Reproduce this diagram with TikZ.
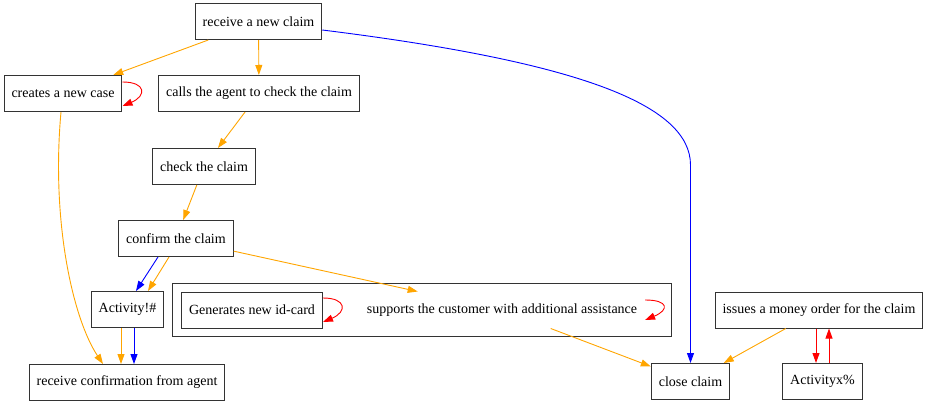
\documentclass[tikz,border=0pt]{standalone}
\usepackage{fontspec}
\setmainfont{Liberation Serif}
\usepackage{tikz}
\usetikzlibrary{arrows.meta,calc,positioning,fit}
\definecolor{edgeorange}{HTML}{FFA500}
\definecolor{edgeblue}{HTML}{0000FF}
\definecolor{edgered}{HTML}{FF0000}

\begin{document}
\begin{tikzpicture}[x=1pt,y=-1pt,
		box/.style={draw=black!80, line width=1pt, minimum height=36pt, inner xsep=7.5pt, font=\fontsize{14}{16}\selectfont},
		plain/.style={box, draw=none},
		flow/.style={line width=0.9pt, -{Triangle[length=10pt,width=7pt]}}]
		\useasboundingbox (0,0) rectangle (931,404);
		\node[box, minimum width=499pt, minimum height=53pt] (clus) at (421.5,309.5) {};
		\node[box] (rnew) at (258.5,21.5) {receive a new claim};
		\node[box] (cnew) at (63,93.5) {creates a new case};
		\node[box] (call) at (259,93.5) {calls the agent to check the claim};
		\node[box] (chk) at (204,166.5) {check the claim};
		\node[box] (conf) at (176,238.5) {confirm the claim};
		\node[box] (act1) at (127.5,309.5) {Activity!\#};
		\node[box] (rconf) at (127,382.5) {receive confirmation from agent};
		\node[box] (gen) at (252,310) {Generates new id-card};
		\node[plain] (sup) at (502,310) {supports the customer with additional assistance};
		\node[box] (iss) at (819,310) {issues a money order for the claim};
		\node[box] (close) at (690.5,381.5) {close claim};
		\node[box] (actx) at (822.5,381.5) {Activityx\%};
		\draw[flow,edgeorange] (rnew) -- (cnew);
		\draw[flow,edgeorange] (rnew) -- (call);
		\draw[flow,edgeblue] ($(rnew.east)+(0,8.5)$) .. controls (580,62) and (690.5,105) .. (690.5,165) -- (close);
		\draw[flow,edgered] ($(cnew.east)+(0,-11.5)$) .. controls +(24,0) and +(24,-10) .. ($(cnew.east)+(0,12.5)$);
		\draw[flow,edgeorange] ($(cnew.south)+(-2,0)$) .. controls +(-10,110) and +(-30,-45) .. ($(rconf.north)+(-24,0)$);
		\draw[flow,edgeorange] (call) -- (chk);
		\draw[flow,edgeorange] (chk) -- (conf);
		\draw[flow,edgeblue] ($(conf.south)+(-18,0)$) -- ($(act1.north)+(8.5,0)$);
		\draw[flow,edgeorange] ($(conf.south)+(-7,0)$) -- ($(act1.north)+(20.5,0)$);
		\draw[flow,edgeorange] (conf) -- (sup);
		\draw[flow,edgeorange] ($(act1.south)+(-6.5,0)$) -- ($(rconf.north)+(-6,0)$);
		\draw[flow,edgeblue] ($(act1.south)+(6.5,0)$) -- ($(rconf.north)+(7,0)$);
		\draw[flow,edgered] ($(gen.east)+(0,-12)$) .. controls +(24,0) and +(24,-10) .. ($(gen.east)+(0,12)$);
		\draw[flow,edgered] ($(sup.east)+(0,-10)$) .. controls +(24,0) and +(24,-10) .. ($(sup.east)+(0,10)$);
		\draw[flow,edgeorange] (sup) -- (close);
		\draw[flow,edgeorange] (iss) -- (close);
		\draw[flow,edgered] ($(iss.south)+(-3,0)$) -- ($(actx.north)+(-6.5,0)$);
		\draw[flow,edgered] ($(actx.north)+(6.5,0)$) -- ($(iss.south)+(10,0)$);
\end{tikzpicture}
\end{document}
